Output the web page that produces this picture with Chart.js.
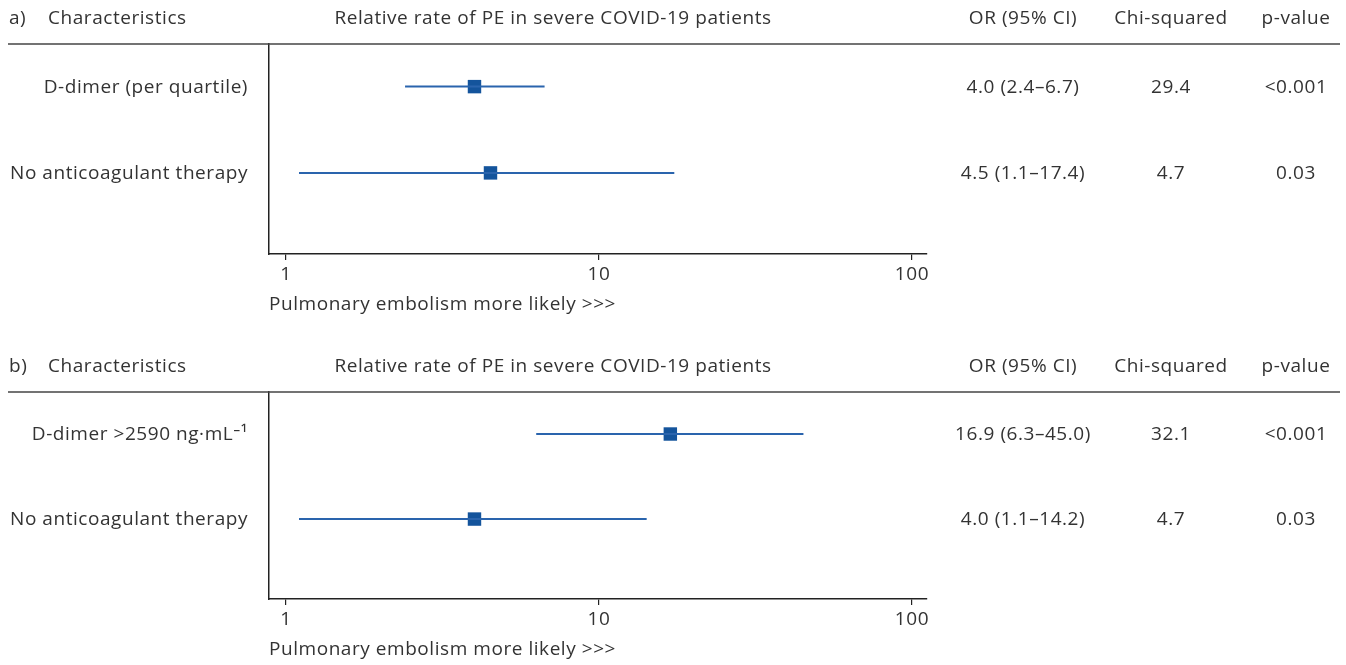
<!DOCTYPE html>
<html>
<head>
<meta charset="utf-8">
<title>Relative rate of PE in severe COVID-19 patients</title>
<script src="https://cdn.jsdelivr.net/npm/chart.js@4"></script>
<style>
  html, body { margin: 0; padding: 0; background: #fff; }
  #wrap { position: relative; width: 1346px; height: 665px; }
  canvas { position: absolute; left: 0; }
  #panel-a { top: 0; }
  #panel-b { top: 348px; }
</style>
</head>
<body>
<div id="wrap">
  <canvas id="panel-a" width="1346" height="320"></canvas>
  <canvas id="panel-b" width="1346" height="317"></canvas>
</div>
<script>
// Panel a
const labelsA = ['D-dimer (per quartile)', 'No anticoagulant therapy'];
const orA = [4.0, 4.5];
const lowA = [2.4, 1.1];
const highA = [6.7, 17.4];
const chiA = [29.4, 4.7];
const pA = ['<0.001', '0.03'];

// Panel b
const labelsB = ['D-dimer >2590 ng·mL⁻¹', 'No anticoagulant therapy'];
const orB = [16.9, 4.0];
const lowB = [6.3, 1.1];
const highB = [45.0, 14.2];
const chiB = [32.1, 4.7];
const pB = ['<0.001', '0.03'];

const tickValues = [1, 10, 100];
const headers = ['Characteristics', 'Relative rate of PE in severe COVID-19 patients', 'OR (95% CI)', 'Chi-squared', 'p-value'];
const axisTitle = 'Pulmonary embolism more likely >>>';

const FONT = '"Open Sans", Roboto, sans-serif';
const FONT_SIZE = 19;
const TEXT = '#333333';
const BLUE = '#14549c';
const LINE_BLUE = '#2a64ad';

function fmt(v) { return v.toFixed(1); }

// wider tracking, closer to the original typeface
const spacingPlugin = {
    id: 'tracking',
    beforeDraw(chart) { chart.ctx.letterSpacing = '0.55px'; }
};

// draws header, separator line and the text columns of the table
const tablePlugin = {
    id: 'forestTable',
    afterDraw(chart, args, opts) {
        const ctx = chart.ctx;
        const area = chart.chartArea;
        const y = chart.scales.y;
        ctx.save();
        ctx.letterSpacing = '0.55px';
        ctx.fillStyle = TEXT;
        ctx.font = FONT_SIZE + 'px ' + FONT;
        ctx.textBaseline = 'middle';

        const hy = area.top - 25;
        ctx.textAlign = 'left';
        ctx.fillText(opts.letter, 9, hy);
        ctx.fillText(headers[0], 48, hy);
        ctx.textAlign = 'center';
        ctx.fillText(headers[1], 553, hy);
        ctx.fillText(headers[2], 1023, hy);
        ctx.fillText(headers[3], 1171, hy);
        ctx.fillText(headers[4], 1296, hy);

        ctx.strokeStyle = '#444';
        ctx.lineWidth = 1.5;
        ctx.beginPath();
        ctx.moveTo(8, area.top);
        ctx.lineTo(1340, area.top);
        ctx.stroke();

        opts.labels.forEach((lab, i) => {
            const ry = y.getPixelForValue(i + 1) + 1;
            ctx.textAlign = 'right';
            ctx.fillText(lab, 248, ry);
            ctx.textAlign = 'center';
            ctx.fillText(fmt(opts.or[i]) + ' (' + fmt(opts.low[i]) + '–' + fmt(opts.high[i]) + ')', 1023, ry);
            ctx.fillText(fmt(opts.chi[i]), 1171, ry);
            ctx.fillText(opts.p[i], 1296, ry);
        });
        ctx.restore();
    }
};

function makePanel(id, letter, labels, or, low, high, chi, p) {
    const ctx = document.getElementById(id).getContext('2d');
    const ciSets = labels.map((lab, i) => ({
        type: 'scatter',
        data: [{ x: low[i], y: i + 1 }, { x: high[i], y: i + 1 }],
        showLine: true,
        borderColor: LINE_BLUE,
        borderWidth: 2,
        pointRadius: 0
    }));
    const pointSet = {
        type: 'scatter',
        data: or.map((v, i) => ({ x: v, y: i + 1 })),
        pointStyle: 'rect',
        pointRadius: 9.5,
        backgroundColor: BLUE,
        borderColor: BLUE,
        borderWidth: 0
    };

    return new Chart(ctx, {
        type: 'scatter',
        data: { datasets: ciSets.concat([pointSet]) },
        options: {
            responsive: false,
            animation: false,
            devicePixelRatio: 1,
            layout: { padding: { left: 269, right: 419, top: 44, bottom: 0 } },
            scales: {
                x: {
                    type: 'logarithmic',
                    min: 0.882,
                    max: 111.7,
                    afterBuildTicks: s => { s.ticks = tickValues.map(v => ({ value: v })); },
                    afterFit: s => { s.height = 66; },
                    grid: { display: true, drawOnChartArea: false, drawTicks: true, tickLength: 6, color: '#222', lineWidth: 1.2 },
                    border: { display: true, color: '#222', width: 1.5 },
                    ticks: {
                        color: TEXT,
                        font: { family: FONT, size: FONT_SIZE },
                        padding: 3,
                        maxRotation: 0,
                        autoSkip: false,
                        callback: v => String(v)
                    },
                    title: {
                        display: true,
                        text: axisTitle,
                        align: 'start',
                        color: TEXT,
                        font: { family: FONT, size: FONT_SIZE },
                        padding: { top: 4, bottom: 4 }
                    }
                },
                y: {
                    type: 'linear',
                    reverse: true,
                    min: 0.506,
                    max: 2.94,
                    afterFit: s => { s.width = 0; },
                    grid: { display: false },
                    border: { display: true, color: '#222', width: 1.5 },
                    ticks: { display: false }
                }
            },
            plugins: {
                legend: { display: false },
                tooltip: { enabled: false },
                forestTable: { letter, labels, or, low, high, chi, p }
            }
        },
        plugins: [spacingPlugin, tablePlugin]
    });
}

document.addEventListener('DOMContentLoaded', () => {
    window.chartA = makePanel('panel-a', 'a)', labelsA, orA, lowA, highA, chiA, pA);
    window.chartB = makePanel('panel-b', 'b)', labelsB, orB, lowB, highB, chiB, pB);
});
</script>
</body>
</html>
